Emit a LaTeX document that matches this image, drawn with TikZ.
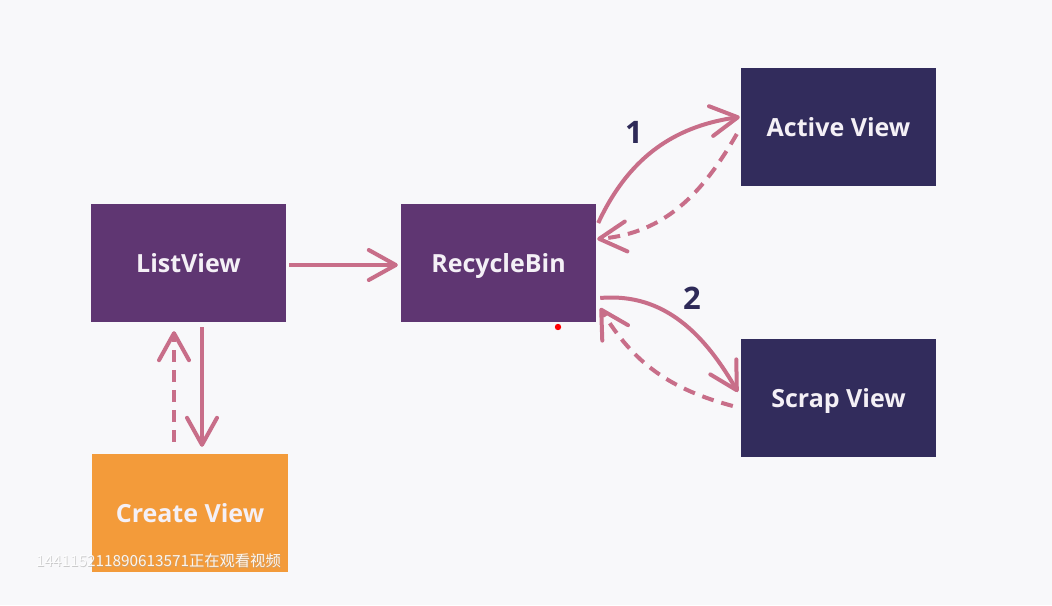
\documentclass[tikz,border=0pt]{standalone}
\usepackage{fontspec}
\setmainfont{Open Sans}
\newfontfamily\cjk{Noto Sans CJK SC}
\usetikzlibrary{arrows.meta,calc}
\definecolor{bgc}{HTML}{F8F8FA}
\definecolor{purp}{HTML}{5F3672}
\definecolor{navy}{HTML}{322C5C}
\definecolor{orng}{HTML}{F39B3A}
\definecolor{pink}{HTML}{C86E89}
\definecolor{lbl}{HTML}{2E2A58}
\definecolor{txtc}{HTML}{F4F0F6}
\tikzset{
  box/.style={minimum width=195pt, minimum height=118pt, inner sep=0pt,
    text height=18pt, text depth=0pt,
    text=txtc, font=\fontsize{25}{25}\selectfont\bfseries},
  conn/.style={draw=pink, line width=4pt, -{Straight Barb[length=27pt,width=30pt,round]}},
  dconn/.style={conn, dash pattern=on 12pt off 8pt},
  numlbl/.style={text=lbl, font=\fontsize{31}{31}\selectfont\bfseries, inner sep=0pt},
  wmark/.style={anchor=west, inner sep=0pt, font=\cjk\fontsize{15.3}{15.3}\selectfont}
}
\begin{document}
\begin{tikzpicture}[x=1pt,y=1pt]
\useasboundingbox (0,0) rectangle (1052,-605);
\fill[bgc] (0,0) rectangle (1052,-605);
\node[box, fill=purp] (lv) at (188.5,-263) {ListView};
\node[box, fill=purp] (rb) at (498.5,-263) {RecycleBin};
\node[box, fill=navy] (av) at (838.5,-127) {Active View};
\node[box, fill=navy] (sv) at (838.5,-398) {Scrap View};
\node[box, fill=orng, minimum width=196pt] (cv) at (190,-513) {Create View};
\node[numlbl] (n1) at (634,-132) {1};
\node[numlbl] (n2) at (692,-298) {2};
% connectors
\draw[conn] ($(lv.east)+(3,-2)$) -- ($(rb.west)+(-3,-2)$);
\draw[conn] ($(lv.south)+(13.5,-5)$) -- ($(cv.north)+(12,7)$);
\draw[dconn] ($(cv.north)+(-16,12)$) -- ($(lv.south)+(-14.5,-9)$);
\draw[conn] ($(rb.east)+(2,40)$) to[out=65,in=188] ($(av.west)+(-1,10)$);
\draw[dconn] ($(av.west)+(-4,-7)$) to[out=240,in=5] ($(rb.east)+(1,24)$);
\draw[conn] ($(rb.east)+(4,-35)$) to[out=5,in=120] ($(sv.west)+(-3,6)$);
\draw[dconn] ($(sv.west)+(-8,-8)$) to[out=165,in=-59] ($(rb.east)+(4,-45)$);
% red dot
\fill[red] (558,-327) circle (3.2pt);
% watermark
\node[wmark, text=black!35, opacity=0.55] (wms) at (36.6,-561.6) {144115211890613571正在观看视频};
\node[wmark, text=white, opacity=0.9] (wm) at (36,-561) {144115211890613571正在观看视频};
\end{tikzpicture}
\end{document}
